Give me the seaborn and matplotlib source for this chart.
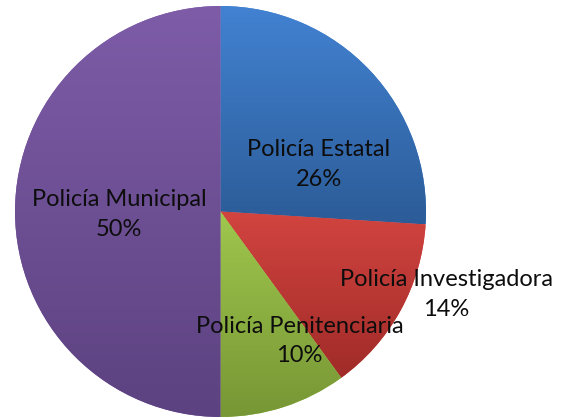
import numpy as np
import matplotlib.pyplot as plt
import seaborn as sns
from matplotlib.colors import LinearSegmentedColormap

# data
labels = ["Policía Estatal", "Policía Investigadora", "Policía Penitenciaria", "Policía Municipal"]
shares = [26, 14, 10, 50]

# slice colours (light top -> dark bottom, like the office gradient fill)
top_colors = ["#4282d2", "#d24440", "#9fc74d", "#7e5ca8"]
bottom_colors = ["#2c5c98", "#a02b28", "#779635", "#5c4280"]

# where the data labels sit (data coords, pie radius = 1)
label_pos = [(0.478, 0.229), (1.10, -0.405), (0.385, -0.63), (-0.493, -0.015)]

sns.set_theme(style="white")
plt.rcParams["font.family"] = ["Lato", "DejaVu Sans"]

fig = plt.figure(figsize=(5.61, 4.18), dpi=100)
ax = fig.add_axes([15 / 561, 1 / 418, 411 / 561, 411 / 418])

wedges, _ = ax.pie(shares, startangle=90, counterclock=False,
                   colors=top_colors, wedgeprops=dict(linewidth=0))

grad = np.linspace(0, 1, 256).reshape(-1, 1)
for w, c1, c2 in zip(wedges, top_colors, bottom_colors):
    v = w.get_path().vertices
    cmap = LinearSegmentedColormap.from_list("g", [c2, c1])
    im = ax.imshow(grad, cmap=cmap, origin="lower", aspect="auto", zorder=2,
                   extent=[v[:, 0].min(), v[:, 0].max(), v[:, 1].min(), v[:, 1].max()])
    im.set_clip_path(w)

for (x, y), lab, s in zip(label_pos, labels, shares):
    ax.text(x, y, f"{lab}\n{s}%", ha="center", va="center", fontsize=17,
            color="#0d0d0d", linespacing=1.5, zorder=5, clip_on=False)

ax.set_xlim(-1, 1)
ax.set_ylim(-1, 1)
ax.set_aspect("equal")
ax.axis("off")

fig.savefig("out.png", dpi=100)
